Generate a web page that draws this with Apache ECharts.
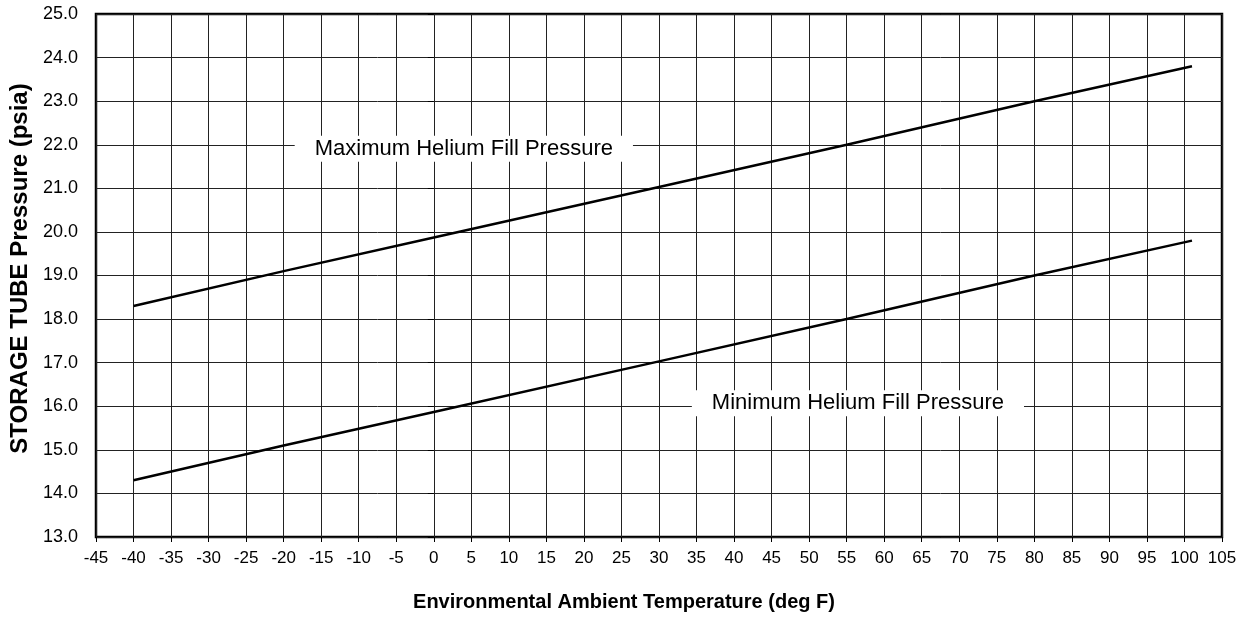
<!DOCTYPE html>
<html>
<head>
<meta charset="utf-8">
<script src="https://cdn.jsdelivr.net/npm/echarts@6/dist/echarts.min.js"></script>
<style>
  html, body { margin: 0; padding: 0; background: #fff; }
  #chart { width: 1248px; height: 630px; }
</style>
</head>
<body>
<div id="chart"></div>
<script>
  // temperatures (deg F)
  var temps = [-40, -20, 0, 30, 55, 80, 101];
  var maxFill = [18.3, 19.1, 19.87, 21.03, 22.0, 23.0, 23.8];
  var minFill = [14.3, 15.1, 15.87, 17.03, 18.0, 19.0, 19.8];

  var maxLabel = { name: "Maximum Helium Fill Pressure", at: [4, 21.91] };
  var minLabel = { name: "Minimum Helium Fill Pressure", at: [56.5, 16.07] };

  var font = "Liberation Sans, Arial, sans-serif";

  function pairs(xs, ys) {
    return xs.map(function (x, i) { return [x, ys[i]]; });
  }

  // boxed text sitting on the plot, white background hides the grid
  function tag(lbl) {
    return {
      symbol: "rect",
      symbolSize: 1,
      silent: true,
      itemStyle: { color: "rgba(0,0,0,0)" },
      label: {
        show: true,
        position: "inside",
        formatter: lbl.name,
        color: "#000",
        fontFamily: font,
        fontSize: 22,
        backgroundColor: "#fff",
        padding: [2, 20, 2, 20]
      },
      data: [{ coord: lbl.at }]
    };
  }

  var chart = echarts.init(document.getElementById("chart"), null, { renderer: "canvas" });

  chart.setOption({
    animation: false,
    grid: {
      left: 96, right: 26, top: 14, bottom: 93,
      outerBoundsMode: "none",
      containLabel: false,
      show: true, borderColor: "#000", borderWidth: 2.5, backgroundColor: "transparent"
    },
    xAxis: {
      type: "value",
      min: -45, max: 105, interval: 5,
      name: "Environmental Ambient Temperature (deg F)",
      nameLocation: "middle",
      nameGap: 55,
      nameTextStyle: { fontFamily: font, fontSize: 20, fontWeight: "bold", color: "#000", padding: [0, 70, 0, 0] },
      axisLine: { show: false },
      axisTick: { show: true, length: 5, lineStyle: { color: "#000" } },
      axisLabel: { color: "#000", fontFamily: font, fontSize: 17, margin: 13 },
      splitLine: { show: true, lineStyle: { color: "#222", width: 1 } }
    },
    yAxis: {
      type: "value",
      min: 13, max: 25, interval: 1,
      name: "STORAGE TUBE Pressure (psia)",
      nameLocation: "middle",
      nameGap: 64,
      nameTextStyle: { fontFamily: font, fontSize: 24, fontWeight: "bold", color: "#000", padding: [0, 0, 0, 14] },
      axisLine: { show: false },
      axisTick: { show: true, length: 6, lineStyle: { color: "#000" } },
      axisLabel: {
        color: "#000", fontFamily: font, fontSize: 18, margin: 18,
        formatter: function (v) { return v.toFixed(1); }
      },
      splitLine: { show: true, lineStyle: { color: "#222", width: 1 } }
    },
    series: [
      {
        name: "Maximum",
        type: "line",
        data: pairs(temps, maxFill),
        symbol: "none",
        lineStyle: { color: "#000", width: 2.5 },
        markPoint: tag(maxLabel),
        z: 3
      },
      {
        name: "Minimum",
        type: "line",
        data: pairs(temps, minFill),
        symbol: "none",
        lineStyle: { color: "#000", width: 2.5 },
        markPoint: tag(minLabel),
        z: 3
      }
    ]
  });
</script>
</body>
</html>
